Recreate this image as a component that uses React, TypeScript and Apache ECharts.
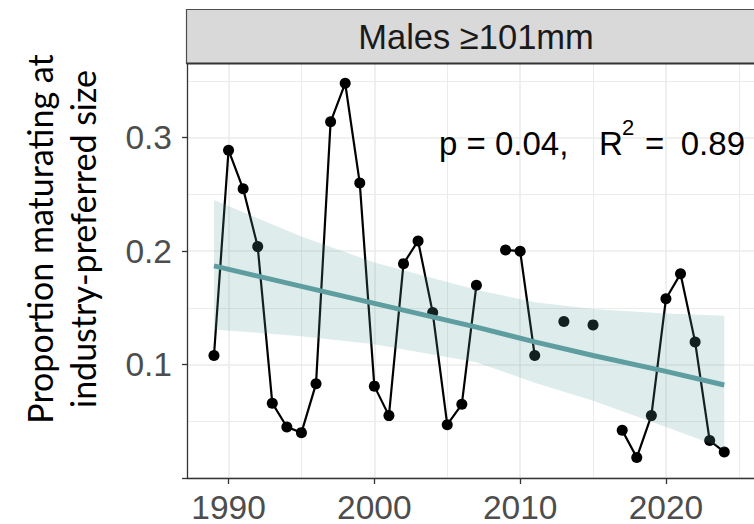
import React, { useEffect, useRef } from 'react';
import * as echarts from 'echarts';

// ---- data ----
const years = [
  1989, 1990, 1991, 1992, 1993, 1994, 1995, 1996, 1997, 1998, 1999, 2000,
  2001, 2002, 2003, 2004, 2005, 2006, 2007, 2008, 2009, 2010, 2011, 2012,
  2013, 2014, 2015, 2016, 2017, 2018, 2019, 2020, 2021, 2022, 2023, 2024,
];
const proportion: (number | null)[] = [
  0.108, 0.289, 0.255, 0.204, 0.066, 0.045, 0.040, 0.083, 0.314, 0.348, 0.260, 0.081,
  0.055, 0.189, 0.209, 0.146, 0.047, 0.065, 0.170, null, 0.201, 0.200, 0.108, null,
  0.138, null, 0.135, null, 0.042, 0.018, 0.055, 0.158, 0.180, 0.120, 0.033, 0.023,
];
const fitYears = [1989, 1995, 2000, 2007, 2011, 2015, 2020, 2024];
const fitValues = [0.187, 0.169, 0.154, 0.133, 0.120, 0.108, 0.094, 0.082];
const ciLower = [0.131, 0.125, 0.118, 0.102, 0.084, 0.068, 0.045, 0.026];
const ciUpper = [0.245, 0.213, 0.190, 0.166, 0.155, 0.149, 0.145, 0.143];

const xMajorTicks = [1990, 2000, 2010, 2020];
const xMinorTicks = [1995, 2005, 2015, 2025];
const yMajorTicks = [0, 0.1, 0.2, 0.3];
const yLabelTicks = [0.1, 0.2, 0.3];
const yMinorTicks = [0.05, 0.15, 0.25, 0.35];

const stripLabel = 'Males ≥101mm';
const yTitleLines = ['Proportion maturating at', 'industry-preferred size'];
const statP = 'p = 0.04,';
const statR = 'R';
const statSup = '2';
const statEq = '=';
const statR2 = '0.89';

const X_MIN = 1987.15;
const X_MAX = 2026.04;
const Y_MIN = 0;
const Y_MAX = 0.365;

const SANS = '"Liberation Sans", Arial, Helvetica, sans-serif';
const GRID = '#EBEBEB';
const AXIS = '#333333';

export default function App() {
  const ref = useRef<HTMLDivElement>(null);

  useEffect(() => {
    if (!ref.current) return;
    const chart = echarts.init(ref.current, null, { renderer: 'svg' });

    const statText = (text: string, x: number, y: number, size: number, align = 'left') => ({
      type: 'text',
      x,
      y,
      style: { text, fontSize: size, fontFamily: SANS, fill: '#000', align, verticalAlign: 'middle' },
      z: 12,
    });

    const option: any = {
      animation: false,
      backgroundColor: '#ffffff',
      grid: { left: 187, top: 64, right: 0, bottom: 45, containLabel: false },
      xAxis: [
        {
          type: 'value',
          min: X_MIN,
          max: X_MAX,
          axisLine: { show: true, onZero: false, lineStyle: { color: AXIS, width: 1.3 } },
          axisTick: { show: true, length: 6, customValues: xMajorTicks, lineStyle: { color: AXIS, width: 1.3 } },
          axisLabel: {
            customValues: xMajorTicks,
            color: '#4D4D4D',
            fontSize: 33.5,
            fontFamily: SANS,
            margin: 12,
            formatter: (v: number) => String(v),
          },
          splitLine: { show: true, lineStyle: { color: GRID, width: 1.6 } },
        },
        {
          type: 'value',
          min: X_MIN,
          max: X_MAX,
          axisLine: { show: false },
          axisTick: { show: false, customValues: xMinorTicks },
          axisLabel: { show: false, customValues: xMinorTicks },
          splitLine: { show: true, lineStyle: { color: GRID, width: 1 } },
        },
      ],
      yAxis: [
        {
          type: 'value',
          min: Y_MIN,
          max: Y_MAX,
          axisLine: { show: true, onZero: false, lineStyle: { color: AXIS, width: 1.3 } },
          axisTick: { show: true, length: 5, customValues: yMajorTicks, lineStyle: { color: AXIS, width: 1.3 } },
          axisLabel: {
            customValues: yLabelTicks,
            color: '#4D4D4D',
            fontSize: 33.5,
            fontFamily: SANS,
            margin: 15,
            formatter: (v: number) => v.toFixed(1),
          },
          splitLine: { show: true, lineStyle: { color: GRID, width: 1.6 } },
        },
        {
          type: 'value',
          min: Y_MIN,
          max: Y_MAX,
          axisLine: { show: false },
          axisTick: { show: false, customValues: yMinorTicks },
          axisLabel: { show: false, customValues: yMinorTicks },
          splitLine: { show: true, lineStyle: { color: GRID, width: 1 } },
        },
      ],
      series: [
        {
          type: 'line',
          xAxisIndex: 0,
          yAxisIndex: 0,
          silent: true,
          data: years.map((y, i) => [y, proportion[i] == null ? '-' : proportion[i]]),
          connectNulls: false,
          symbol: 'circle',
          symbolSize: 11,
          showSymbol: true,
          showAllSymbol: true,
          lineStyle: { color: '#000000', width: 2.2 },
          itemStyle: { color: '#000000' },
          z: 2,
        },
        {
          type: 'custom',
          xAxisIndex: 0,
          yAxisIndex: 0,
          silent: true,
          data: fitYears.map((y, i) => [y, ciLower[i], ciUpper[i]]),
          encode: { x: 0, y: [1, 2] },
          renderItem: (params: any, api: any) => {
            if (params.dataIndex !== 0) return null;
            const pts: number[][] = [];
            for (let i = 0; i < fitYears.length; i++) pts.push(api.coord([fitYears[i], ciUpper[i]]));
            for (let i = fitYears.length - 1; i >= 0; i--) pts.push(api.coord([fitYears[i], ciLower[i]]));
            return {
              type: 'polygon',
              shape: { points: pts },
              style: { fill: 'rgba(95,158,160,0.2)', stroke: 'none' },
            };
          },
          z: 3,
        },
        {
          type: 'line',
          xAxisIndex: 0,
          yAxisIndex: 0,
          silent: true,
          data: fitYears.map((y, i) => [y, fitValues[i]]),
          symbol: 'none',
          lineStyle: { color: '#5F9EA0', width: 5 },
          z: 4,
        },
      ],
      graphic: [
        {
          type: 'rect',
          shape: { x: 186.5, y: 9.5, width: 620, height: 54 },
          style: { fill: '#D9D9D9', stroke: '#4D4D4D', lineWidth: 1.2 },
          z: 10,
        },
        {
          type: 'line',
          shape: { x1: 186.5, y1: 63.5, x2: 754, y2: 63.5 },
          style: { stroke: '#333333', lineWidth: 2 },
          z: 11,
        },
        {
          type: 'text',
          x: 476,
          y: 37,
          style: {
            text: stripLabel,
            fontSize: 34.5,
            fontFamily: SANS,
            fill: '#1A1A1A',
            align: 'center',
            verticalAlign: 'middle',
          },
          z: 12,
        },
        statText(statP, 439, 143, 33),
        statText(statR, 599, 143, 33),
        statText(statSup, 622, 127, 22),
        statText(statEq, 645, 143, 33),
        statText(statR2, 745, 143, 33, 'right'),
        {
          type: 'text',
          x: 61,
          y: 239,
          rotation: Math.PI / 2,
          style: {
            text: yTitleLines.join('\n'),
            fontSize: 34,
            lineHeight: 43,
            fontFamily: 'Lato, "Open Sans", sans-serif',
            fill: '#000',
            align: 'center',
            verticalAlign: 'middle',
          },
          z: 12,
        },
      ],
    };

    chart.setOption(option);
    return () => chart.dispose();
  }, []);

  return (
    <div
      ref={ref}
      style={{ position: 'fixed', left: 0, top: 0, width: 754, height: 524, background: '#fff' }}
    />
  );
}
